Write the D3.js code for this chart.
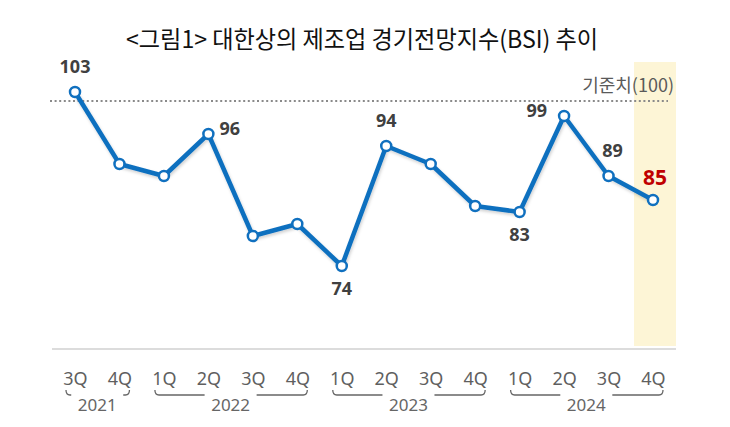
<!DOCTYPE html>
<html>
<head>
<meta charset="utf-8">
<script src="https://cdn.jsdelivr.net/npm/d3@7"></script>
<style>
  body { margin: 0; background: #fff; }
  svg { display: block; }
</style>
</head>
<body>
<div id="chart"></div>
<script>
// data
var quarters = ["3Q", "4Q", "1Q", "2Q", "3Q", "4Q", "1Q", "2Q", "3Q", "4Q", "1Q", "2Q", "3Q", "4Q"];
var years = ["2021", "2021", "2022", "2022", "2022", "2022", "2023", "2023", "2023", "2023", "2024", "2024", "2024", "2024"];
var bsi = [103, 91, 89, 96, 79, 81, 74, 94, 91, 84, 83, 99, 89, 85];
// which points carry a label and where it goes
var labelPos = ["top", null, null, "right", null, null, "bottom", "top", null, null, "bottom", "left", "top", "top"];
var refValue = 100;
var refLevel = 101.5; // the dotted line sits a bit above 100 in the picture

var width = 730, height = 427;
var keys = bsi.map((d, i) => i);

var svg = d3.select("#chart").append("svg")
    .attr("width", width).attr("height", height)
    .style("font-family", "'Noto Sans', 'Noto Sans CJK KR', sans-serif");

var x = d3.scalePoint().domain(keys).range([75, 653]);
var y = d3.scaleLinear().domain([60, 103]).range([350, 92]);

// shadow under the line
var defs = svg.append("defs");
var f = defs.append("filter").attr("id", "shadow").attr("x", "-10%").attr("y", "-10%").attr("width", "120%").attr("height", "130%");
f.append("feDropShadow").attr("dx", 1).attr("dy", 2).attr("stdDeviation", 1.5)
    .attr("flood-color", "#000").attr("flood-opacity", 0.18);

// title
svg.append("text")
    .attr("x", 362).attr("y", 48)
    .attr("text-anchor", "middle")
    .attr("font-family", "'Noto Sans CJK KR', sans-serif")
    .attr("font-size", 24)
    .attr("textLength", 472).attr("lengthAdjust", "spacingAndGlyphs")
    .attr("fill", "#111")
    .text("<그림1> 대한상의 제조업 경기전망지수(BSI) 추이");

// highlight for the latest quarter
var last = keys[keys.length - 1];
svg.append("rect")
    .attr("x", x(last) - 19).attr("width", 42)
    .attr("y", 62).attr("height", y(60) - 4 - 62)
    .attr("fill", "#fdf5d6");

// baseline
svg.append("line")
    .attr("x1", x(0) - 23).attr("x2", x(last) + 23)
    .attr("y1", y(60) - 1).attr("y2", y(60) - 1)
    .attr("stroke", "#d0d0d0").attr("stroke-width", 1.5);

// reference line
svg.append("line")
    .attr("x1", x(0) - 25).attr("x2", x(last) + 15)
    .attr("y1", y(refLevel)).attr("y2", y(refLevel))
    .attr("stroke", "#8a8a8a").attr("stroke-width", 2)
    .attr("stroke-dasharray", "2,2.6");

svg.append("text")
    .attr("x", x(last) + 21).attr("y", y(refLevel) - 9)
    .attr("text-anchor", "end")
    .attr("font-family", "'Noto Sans CJK KR', sans-serif")
    .attr("font-size", 18)
    .attr("fill", "#5a5a5a")
    .text("기준치(" + refValue + ")");

// the line
var line = d3.line().x((d, i) => x(i)).y(d => y(d));
svg.append("path")
    .attr("d", line(bsi))
    .attr("fill", "none")
    .attr("stroke", "#1070bf")
    .attr("stroke-width", 4.5)
    .attr("stroke-linejoin", "round")
    .attr("filter", "url(#shadow)");

svg.selectAll("circle.pt").data(bsi).enter().append("circle")
    .attr("class", "pt")
    .attr("cx", (d, i) => x(i)).attr("cy", d => y(d))
    .attr("r", 5)
    .attr("fill", "#fff")
    .attr("stroke", "#1070bf").attr("stroke-width", 2.5);

// value labels
var labelled = keys.filter(i => labelPos[i]).map(i => ({ i: i, v: bsi[i], pos: labelPos[i] }));
svg.selectAll("text.val").data(labelled).enter()
    .append("text")
    .attr("class", "val")
    .attr("x", d => {
        if (d.pos == "right") return x(d.i) + 11;
        if (d.pos == "left") return x(d.i) - 17;
        return x(d.i) + (d.i == last ? 2 : d.i == 12 ? 4 : 0);
    })
    .attr("y", d => {
        if (d.pos == "top") return y(d.v) - (d.i == last ? 15 : 19);
        if (d.pos == "bottom") return y(d.v) + 29;
        return y(d.v) + 1;
    })
    .attr("text-anchor", d => d.pos == "right" ? "start" : d.pos == "left" ? "end" : "middle")
    .attr("font-size", d => d.i == last ? 21 : 18)
    .attr("font-weight", "bold")
    .attr("fill", d => d.i == last ? "#c00000" : "#404040")
    .text(d => d.v);

// quarter labels
var xAxis = d3.axisBottom(x).tickSize(0).tickPadding(0).tickFormat(i => quarters[i]);
var gx = svg.append("g")
    .attr("transform", "translate(0,372)")
    .call(xAxis);
gx.select(".domain").remove();
gx.selectAll("text")
    .attr("font-size", 18)
    .attr("font-family", "'Noto Sans', sans-serif")
    .attr("fill", "#5f5f5f");

// year brackets
var yearGroups = d3.groups(keys, i => years[i]);
var by = 395;
yearGroups.forEach(function (g) {
    var idx = g[1];
    var x0 = x(idx[0]) - 9, x1 = x(idx[idx.length - 1]) + 10;
    var cx = (x(idx[0]) + x(idx[idx.length - 1])) / 2;
    var gap = 26;
    var bg = svg.append("g").attr("fill", "none").attr("stroke", "#666").attr("stroke-width", 1.3);
    bg.append("path").attr("d", `M${x0},${by - 5} Q${x0},${by} ${x0 + 4},${by} L${cx - gap},${by}`);
    bg.append("path").attr("d", `M${x1},${by - 5} Q${x1},${by} ${x1 - 4},${by} L${cx + gap},${by}`);
    svg.append("text")
        .attr("x", cx).attr("y", by + 16)
        .attr("text-anchor", "middle")
        .attr("font-size", 17)
        .attr("fill", "#666")
        .text(g[0]);
});
</script>
</body>
</html>
